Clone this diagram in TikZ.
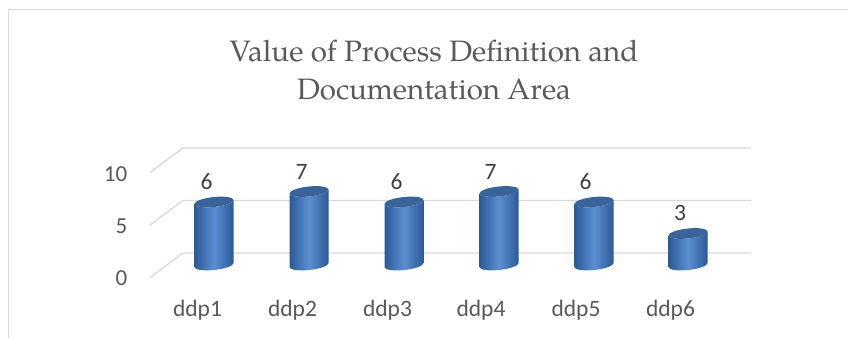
\documentclass[tikz,border=0pt]{standalone}
\usepackage{fontspec}
\setmainfont{Carlito}
\newfontfamily\titlefont{TeX Gyre Pagella}
\definecolor{gridc}{HTML}{D9D9D9}
\definecolor{txt}{HTML}{595959}
\definecolor{lbl}{HTML}{404040}
\definecolor{cyldark}{HTML}{2C5A96}
\definecolor{cyllight}{HTML}{5B8ED2}
\definecolor{cyltop}{HTML}{3A6499}
\newcommand\cylbar[2]{%
  \begin{scope}[shift={(#1,73)},yslant=0.1]
    \pgfmathsetmacro\hh{10.5*#2}
    \shade[left color=cyldark,right color=cyldark,middle color=cyllight]
      (-19.5,\hh) -- (-19.5,0) arc[start angle=180,end angle=360,x radius=19.5,y radius=5]
      -- (19.5,\hh) arc[start angle=0,end angle=-180,x radius=19.5,y radius=5] -- cycle;
    \fill[cyltop] (0,\hh) ellipse[x radius=19.5,y radius=5];
  \end{scope}}
\begin{document}
\begin{tikzpicture}[x=1pt,y=1pt,
  gridline/.style={draw=gridc,line width=1.3pt},
  axislbl/.style={font=\fontsize{23}{26}\selectfont,text=txt,inner sep=0pt,anchor=base east},
  catlbl/.style={font=\fontsize{23.5}{26}\selectfont,text=txt,inner sep=0pt,anchor=base},
  datalbl/.style={font=\fontsize{23.5}{26}\selectfont,text=lbl,inner sep=0pt,anchor=base},
  titlelbl/.style={font=\titlefont\fontsize{29.5}{36}\selectfont,text=txt,inner sep=0pt,anchor=base}]
\useasboundingbox (0,0) rectangle (848,338);
\fill[white] (0,0) rectangle (848,338);
% chart border
\draw[gridc,line width=1.3pt] (8.5,0) -- (8.5,328.5) -- (848,328.5);
% gridlines
\foreach \v in {0,5,10}
  \draw[gridline] (150,{60.5+10.5*\v}) -- (183,{85+10.5*\v}) -- (751,{85+10.5*\v});
% title
\node[titlelbl] (t1) at (434,276) {Value of Process Definition and};
\node[titlelbl] (t2) at (434,238) {Documentation Area};
% axis labels
\node[axislbl] (y10) at (127.5,156.5) {10};
\node[axislbl] (y5) at (127.5,105) {5};
\node[axislbl] (y0) at (127.5,53) {0};
% cylinders
\cylbar{214}{6}
\cylbar{309}{7}
\cylbar{404}{6}
\cylbar{499}{7}
\cylbar{594}{6}
\cylbar{688}{3}
% data labels
\node[datalbl] (d1) at (206.5,148.5) {6};
\node[datalbl] (d2) at (301.5,158.5) {7};
\node[datalbl] (d3) at (396.5,148.5) {6};
\node[datalbl] (d4) at (490.5,158.5) {7};
\node[datalbl] (d5) at (585.5,148.5) {6};
\node[datalbl] (d6) at (680,117.5) {3};
% category labels
\node[catlbl] (c1) at (197.5,22) {ddp1};
\node[catlbl] (c2) at (292.5,22) {ddp2};
\node[catlbl] (c3) at (387.5,22) {ddp3};
\node[catlbl] (c4) at (481,22) {ddp4};
\node[catlbl] (c5) at (576,22) {ddp5};
\node[catlbl] (c6) at (670.5,22) {ddp6};
\end{tikzpicture}
\end{document}
